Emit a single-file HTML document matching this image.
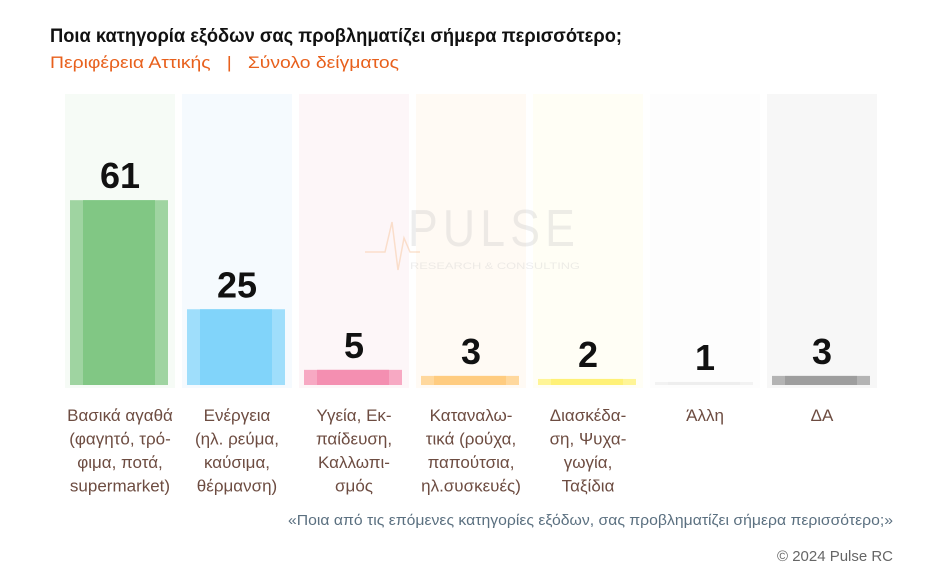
<!DOCTYPE html>
<html><head><meta charset="utf-8">
<style>
html,body{margin:0;padding:0;background:#fff;width:944px;height:574px;overflow:hidden;}
svg{display:block;font-family:"Liberation Sans","Noto Sans CJK SC",sans-serif;}
</style></head>
<body>
<svg id="chart" width="944" height="574" viewBox="0 0 944 574">
<text x="50" y="42" font-size="19" font-weight="bold" fill="#111" textLength="572" lengthAdjust="spacingAndGlyphs">Ποια κατηγορία εξόδων σας προβληματίζει σήμερα περισσότερο;</text>
<text x="50" y="68" font-size="17" fill="#e8601c" textLength="349" lengthAdjust="spacingAndGlyphs">Περιφέρεια Αττικής&#160;&#160;&#160;|&#160;&#160;&#160;Σύνολο δείγματος</text>
<g id="cols"></g>
<g opacity="0.35">
<text x="408" y="246" font-size="52" fill="#ccc" letter-spacing="6" textLength="172" lengthAdjust="spacingAndGlyphs">PULSE</text>
<text x="410" y="269" font-size="9" fill="#ccc" textLength="170" lengthAdjust="spacingAndGlyphs">RESEARCH &amp; CONSULTING</text>
<polyline points="365,252 385,252 392,222 398,270 404,238 410,252 420,252" fill="none" stroke="#f5b27a" stroke-width="1.5"/>
</g>
<text x="893" y="525" font-size="15" fill="#5b7080" text-anchor="end" textLength="605" lengthAdjust="spacingAndGlyphs">«Ποια από τις επόμενες κατηγορίες εξόδων, σας προβληματίζει σήμερα περισσότερο;»</text>
<text x="893" y="561" font-size="15" fill="#666" text-anchor="end" textLength="116" lengthAdjust="spacingAndGlyphs">© 2024 Pulse RC</text>
</svg>
<script>
const categories = [
  ["Βασικά αγαθά","(φαγητό, τρό-","φιμα, ποτά,","supermarket)"],
  ["Ενέργεια","(ηλ. ρεύμα,","καύσιμα,","θέρμανση)"],
  ["Υγεία, Εκ-","παίδευση,","Καλλωπι-","σμός"],
  ["Καταναλω-","τικά (ρούχα,","παπούτσια,","ηλ.συσκευές)"],
  ["Διασκέδα-","ση, Ψυχα-","γωγία,","Ταξίδια"],
  ["Άλλη"],
  ["ΔΑ"]
];
const values = [61, 25, 5, 3, 2, 1, 3];
const colors = ["#81c784","#81d4fa","#f48fb1","#ffcc80","#fff176","#eeeeee","#9e9e9e"];
const bgColors = ["#f6fbf6","#f5fafe","#fdf6f8","#fffaf4","#fffef5","#fdfdfd","#f7f7f7"];
const NS = "http://www.w3.org/2000/svg";
const g = document.getElementById('cols');
const baseY = 385, scale = 3.03;
function xCol(i){ return 65 + i*117; }
function yVal(v){ return baseY - v*scale; }
function mk(tag, attrs, parent){ const e=document.createElementNS(NS,tag); for(const k in attrs) e.setAttribute(k,attrs[k]); parent.appendChild(e); return e; }
values.forEach((v,i)=>{
  const x = xCol(i);
  const bg = mk('rect',{x:x,y:94,width:110,height:294,fill:bgColors[i]},g);
  
  
  const h = Math.max(v*scale, 3);
  const bar = mk('rect',{x:x+5,y:baseY-h,width:98,height:h,fill:colors[i],opacity:0.75},g);
  
  
  const inner = mk('rect',{x:x+18,y:baseY-h,width:72,height:h,fill:colors[i]},g);
  
  
  const lbl = mk('text',{x:x+55,y:yVal(v)-12,'font-size':36,'font-weight':'bold','text-anchor':'middle',fill:'#111'},g);
  lbl.textContent = v;
  
  
  const cl = mk('text',{'font-size':17,'text-anchor':'middle',fill:'#6d4c41'},g);
  
  
  categories[i].forEach((line,j)=>{
    const t = mk('tspan',{x:x+55,y:421+j*23.5},cl);
    t.textContent = line;
  });
});
</script>
</body></html>
